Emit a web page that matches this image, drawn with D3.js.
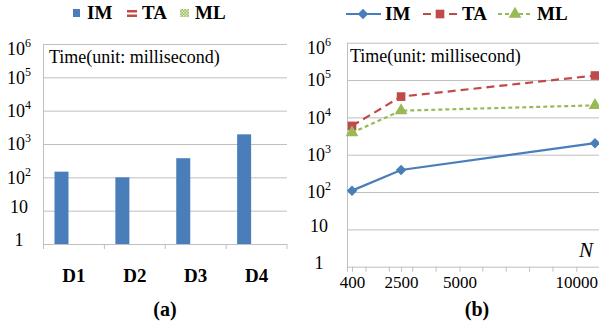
<!DOCTYPE html>
<html>
<head>
<meta charset="utf-8">
<script src="https://cdn.jsdelivr.net/npm/d3@7"></script>
<style>
body { margin: 0; background: #fff; }
svg text { font-family: "Liberation Serif", "Times New Roman", serif; fill: #000; }
</style>
</head>
<body>
<svg width="599" height="329" font-family="Liberation Serif, Times New Roman, serif"></svg>
<script>
// data
const datasets = ['D1', 'D2', 'D3', 'D4'];
const seriesNames = ['IM', 'TA', 'ML'];
const imBars = [148, 100, 375, 1950];
const nValues = [400, 2500, 10800];
const imLine = [109, 390, 2040];
const taLine = [5900, 36000, 132000];
const mlLine = [3900, 15100, 21000];
const yTicks = [1, 10, 100, 1e3, 1e4, 1e5, 1e6];
const xTickLabels = [400, 2500, 5000, 10000];
const xMinorTicks = [1000, 2000, 3000, 4000, 6000, 7000, 8000, 9000];

const colors = { IM: '#4a7ebb', TA: '#be4b48', ML: '#98b954' };
const gridColor = '#bfbfbf';
const serif = '"Liberation Serif", "Times New Roman", serif';

let svg = d3.select('svg');

// pattern for ML legend icon
let defs = svg.append('defs');
let pat = defs.append('pattern')
  .attr('id', 'mlHatch')
  .attr('width', 3).attr('height', 3)
  .attr('patternUnits', 'userSpaceOnUse');
pat.append('rect').attr('width', 3).attr('height', 3).attr('fill', colors.ML);
pat.append('rect').attr('width', 1.5).attr('height', 1.5).attr('fill', '#e4eed3');
pat.append('rect').attr('x', 1.5).attr('y', 1.5).attr('width', 1.5).attr('height', 1.5).attr('fill', '#e4eed3');

// y tick labels: 1, 10, 10^2 ...
function yLabels(g, cx) {
  g.attr('font-family', serif);
  g.selectAll('.tick text').each(function(d) {
    let t = d3.select(this).text('')
      .attr('x', cx)
      .attr('text-anchor', 'middle')
      .attr('font-size', 18)
      .attr('dy', '0.32em');
    let e = Math.round(Math.log10(d));
    if (e < 2) {
      t.attr('y', -4).text(d);
    } else {
      t.attr('y', d == 1e6 ? 5 : 0);
      t.append('tspan').text('10');
      t.append('tspan').attr('dy', -8).attr('font-size', 12).text(e);
    }
  });
}

// ---------------- (a) bar chart ----------------
let aLeft = 43.5, aRight = 287, aTop = 44, aBottom = 244;

let yA = d3.scaleLog().domain([1, 1e6]).range([aBottom, aTop]);
let x0 = d3.scaleBand().domain(datasets).range([aLeft, aRight]);
let x1 = d3.scaleBand().domain(seriesNames).range([11, 53]);

let gA = svg.append('g');

let yAxisA = gA.append('g')
  .attr('transform', `translate(${aLeft},0)`)
  .call(d3.axisLeft(yA).tickValues(yTicks).tickSize(-(aRight - aLeft)).tickPadding(0));
yAxisA.select('.domain').remove();
yAxisA.selectAll('.tick line').attr('stroke', gridColor);
yLabels(yAxisA, -aLeft + 19);

gA.append('line')
  .attr('x1', aLeft).attr('x2', aLeft)
  .attr('y1', aTop).attr('y2', aBottom + 5)
  .attr('stroke', gridColor);

// category boundary ticks
let bounds = datasets.map(d => x0(d)).concat([aRight]);
gA.selectAll('.ctick')
  .data(bounds)
  .enter()
  .append('line')
  .attr('x1', d => d).attr('x2', d => d)
  .attr('y1', aBottom).attr('y2', aBottom + 5)
  .attr('stroke', gridColor);

gA.selectAll('.bar')
  .data(imBars)
  .enter()
  .append('rect')
  .attr('x', (d, i) => x0(datasets[i]) + x1('IM'))
  .attr('y', d => yA(d))
  .attr('width', x1.bandwidth())
  .attr('height', d => aBottom - yA(d))
  .attr('fill', colors.IM);

gA.selectAll('.xlab')
  .data(datasets)
  .enter()
  .append('text')
  .attr('x', d => x0(d) + x0.bandwidth() / 2)
  .attr('y', 282)
  .attr('text-anchor', 'middle')
  .attr('font-weight', 'bold')
  .attr('font-size', 19)
  .text(d => d);

gA.append('text')
  .attr('x', 49).attr('y', 63)
  .attr('font-size', 18)
  .text('Time(unit: millisecond)');

gA.append('text')
  .attr('x', 165).attr('y', 316)
  .attr('text-anchor', 'middle')
  .attr('font-weight', 'bold')
  .attr('font-size', 20)
  .text('(a)');

// legend (a)
gA.append('rect').attr('x', 73).attr('y', 9).attr('width', 7).attr('height', 8).attr('fill', colors.IM);
gA.append('rect').attr('x', 127).attr('y', 10).attr('width', 10).attr('height', 2.5).attr('fill', colors.TA);
gA.append('rect').attr('x', 127).attr('y', 14.5).attr('width', 10).attr('height', 2.5).attr('fill', colors.TA);
gA.append('rect').attr('x', 180).attr('y', 9).attr('width', 9).attr('height', 8).attr('fill', 'url(#mlHatch)');
[['IM', 87], ['TA', 142], ['ML', 195]].forEach(l => {
  gA.append('text')
    .attr('x', l[1]).attr('y', 19)
    .attr('font-weight', 'bold')
    .attr('font-size', 19)
    .text(l[0]);
});

// ---------------- (b) line chart ----------------
let bLeft = 347.5, bRight = 599, bTop = 42.7, bBottom = 266.7;

let yB = d3.scaleLog().domain([1, 1e6]).range([bBottom, bTop]);
let xB = d3.scaleLinear().domain([400, 10800]).range([352, 595]);

let gB = svg.append('g');

let yAxisB = gB.append('g')
  .attr('transform', `translate(${bLeft},0)`)
  .call(d3.axisLeft(yB).tickValues(yTicks).tickSize(-(bRight - bLeft)).tickPadding(0));
yAxisB.select('.domain').remove();
yAxisB.selectAll('.tick line').attr('stroke', gridColor);
yLabels(yAxisB, -bLeft + 319);

gB.append('line')
  .attr('x1', bLeft).attr('x2', bLeft)
  .attr('y1', bTop).attr('y2', bBottom + 5)
  .attr('stroke', gridColor);

let xAxisB = gB.append('g')
  .attr('transform', `translate(0,${bBottom})`)
  .call(d3.axisBottom(xB).tickValues(xTickLabels).tickFormat(d3.format('d')).tickSize(5).tickPadding(4));
xAxisB.attr('font-family', serif);
xAxisB.select('.domain').remove();
xAxisB.selectAll('.tick line').attr('stroke', gridColor);
xAxisB.selectAll('.tick text').attr('font-size', 17);

gB.selectAll('.minor')
  .data(xMinorTicks)
  .enter()
  .append('line')
  .attr('x1', d => xB(d)).attr('x2', d => xB(d))
  .attr('y1', bBottom).attr('y2', bBottom + 5)
  .attr('stroke', gridColor);

let line = d3.line()
  .x((d, i) => xB(nValues[i]))
  .y(d => yB(d));

gB.append('path').datum(imLine)
  .attr('d', line).attr('fill', 'none')
  .attr('stroke', colors.IM).attr('stroke-width', 2.2);
gB.append('path').datum(taLine)
  .attr('d', line).attr('fill', 'none')
  .attr('stroke', colors.TA).attr('stroke-width', 2.2)
  .attr('stroke-dasharray', '8,5');
gB.append('path').datum(mlLine)
  .attr('d', line).attr('fill', 'none')
  .attr('stroke', colors.ML).attr('stroke-width', 2.2)
  .attr('stroke-dasharray', '4,3');

let diamond = d3.symbol().type(d3.symbolDiamond2).size(70);
let square = d3.symbol().type(d3.symbolSquare).size(75);
let triangle = d3.symbol().type(d3.symbolTriangle).size(70);

gB.selectAll('.imPt').data(imLine).enter().append('path')
  .attr('d', diamond)
  .attr('transform', (d, i) => `translate(${xB(nValues[i])},${yB(d)})`)
  .attr('fill', colors.IM);
gB.selectAll('.taPt').data(taLine).enter().append('path')
  .attr('d', square)
  .attr('transform', (d, i) => `translate(${xB(nValues[i])},${yB(d)})`)
  .attr('fill', colors.TA);
gB.selectAll('.mlPt').data(mlLine).enter().append('path')
  .attr('d', triangle)
  .attr('transform', (d, i) => `translate(${xB(nValues[i])},${yB(d)})`)
  .attr('fill', colors.ML);

gB.append('text')
  .attr('x', 350).attr('y', 62)
  .attr('font-size', 18)
  .text('Time(unit: millisecond)');

gB.append('text')
  .attr('x', 593).attr('y', 257)
  .attr('text-anchor', 'end')
  .attr('font-style', 'italic')
  .attr('font-size', 21)
  .text('N');

gB.append('text')
  .attr('x', 477).attr('y', 316)
  .attr('text-anchor', 'middle')
  .attr('font-weight', 'bold')
  .attr('font-size', 20)
  .text('(b)');

// legend (b)
let legB = [
  { name: 'IM', x: 346, sym: diamond, dash: null },
  { name: 'TA', x: 423, sym: square, dash: '8,5' },
  { name: 'ML', x: 498, sym: triangle, dash: '4,3' }
];
legB.forEach(l => {
  gB.append('line')
    .attr('x1', l.x).attr('x2', l.x + 35)
    .attr('y1', 14).attr('y2', 14)
    .attr('stroke', colors[l.name]).attr('stroke-width', 2.2)
    .attr('stroke-dasharray', l.dash);
  gB.append('path')
    .attr('d', l.sym)
    .attr('transform', `translate(${l.x + 17},14)`)
    .attr('fill', colors[l.name]);
  gB.append('text')
    .attr('x', l.x + 39).attr('y', 20)
    .attr('font-weight', 'bold')
    .attr('font-size', 19)
    .text(l.name);
});
</script>
</body>
</html>
